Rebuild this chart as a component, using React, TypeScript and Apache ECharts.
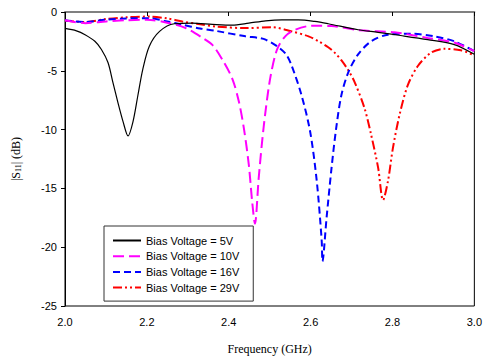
import React, { useEffect, useRef } from "react";
import * as echarts from "echarts";

const seriesNames = [
  "Bias Voltage = 5V",
  "Bias Voltage = 10V",
  "Bias Voltage = 16V",
  "Bias Voltage = 29V",
];

const v5: [number, number][] = [
  [2.0, -1.4], [2.028, -1.6], [2.049, -1.93], [2.073, -2.49], [2.089, -3.19], [2.105, -4.3],
  [2.117, -5.98], [2.129, -7.66], [2.142, -9.34], [2.154, -10.54], [2.166, -9.34], [2.178, -7.1],
  [2.19, -4.87], [2.206, -2.91], [2.231, -1.65], [2.267, -1.0], [2.311, -0.95], [2.36, -1.05],
  [2.408, -1.12], [2.449, -0.95], [2.49, -0.75], [2.53, -0.67], [2.57, -0.67], [2.61, -0.8],
  [2.643, -1.0], [2.716, -1.51], [2.765, -1.73], [2.82, -2.0], [2.886, -2.35], [2.951, -2.77],
  [3.0, -3.6],
];

const v10: [number, number][] = [
  [2.0, -0.7], [2.05, -0.95], [2.1, -0.8], [2.15, -0.7], [2.2, -0.65], [2.255, -0.95],
  [2.295, -1.37], [2.336, -2.2], [2.36, -2.8], [2.384, -4.03], [2.409, -5.7], [2.425, -7.66],
  [2.437, -9.9], [2.449, -12.98], [2.457, -16.05], [2.464, -18.0], [2.473, -14.2], [2.481, -11.2],
  [2.49, -8.4], [2.502, -5.5], [2.518, -3.19], [2.538, -2.07], [2.562, -1.51], [2.603, -1.17],
  [2.651, -1.2], [2.72, -1.55], [2.805, -1.73], [2.886, -2.21], [2.95, -2.6], [3.0, -3.33],
];

const v16: [number, number][] = [
  [2.0, -0.7], [2.05, -0.85], [2.1, -0.65], [2.15, -0.55], [2.206, -0.53], [2.25, -0.8],
  [2.287, -1.09], [2.33, -1.4], [2.368, -1.6], [2.441, -2.07], [2.473, -2.2], [2.49, -2.35],
  [2.518, -2.91], [2.54, -3.6], [2.554, -4.59], [2.578, -7.1], [2.599, -10.2], [2.615, -14.37],
  [2.627, -19.4], [2.629, -21.2], [2.639, -17.5], [2.651, -13.3], [2.662, -10.0], [2.675, -7.1],
  [2.692, -5.14], [2.716, -3.6], [2.748, -2.49], [2.789, -1.93], [2.845, -1.85], [2.902, -2.07],
  [2.951, -2.49], [3.0, -3.33],
];

const v29: [number, number][] = [
  [2.0, -0.75], [2.05, -0.85], [2.1, -0.6], [2.15, -0.45], [2.206, -0.39], [2.25, -0.55],
  [2.287, -0.81], [2.33, -1.05], [2.368, -1.23], [2.441, -1.37], [2.506, -1.3], [2.554, -1.65],
  [2.595, -2.07], [2.62, -2.5], [2.643, -3.0], [2.66, -3.5], [2.675, -4.1], [2.692, -4.95],
  [2.708, -6.0], [2.732, -8.22], [2.748, -10.46], [2.765, -13.25], [2.777, -16.0], [2.789, -14.37],
  [2.801, -11.58], [2.817, -8.78], [2.837, -6.26], [2.862, -4.59], [2.894, -3.47], [2.926, -3.13],
  [2.967, -3.25], [3.0, -3.69],
];

const seriesData = [v5, v10, v16, v29];
const seriesColors = ["#000000", "#ff00ff", "#0000ff", "#ff0000"];
const seriesWidths = [1.2, 2, 2, 2];
const seriesDash: any[] = ["solid", [11, 5], [7, 4], [9, 3, 2, 3, 2, 3]];

export default function App() {
  const ref = useRef<HTMLDivElement>(null);
  useEffect(() => {
    if (!ref.current) return;
    const chart = echarts.init(ref.current, null, { renderer: "svg" });
    chart.setOption({
      animation: false,
      grid: {
        left: 65,
        right: 8,
        top: 12,
        bottom: 50,
        show: true,
        borderColor: "#000",
        borderWidth: 1,
      },
      legend: {
        orient: "vertical",
        left: 104,
        top: 226,
        itemWidth: 28,
        itemHeight: 10,
        itemGap: 4.7,
        padding: [9, 14, 8, 8],
        backgroundColor: "#fff",
        borderColor: "#333",
        borderWidth: 1,
        itemStyle: { opacity: 0 },
        data: seriesNames,
        textStyle: { fontFamily: "Liberation Sans", fontSize: 11, color: "#000" },
      },
      xAxis: {
        type: "value",
        min: 2,
        max: 3,
        interval: 0.2,
        name: "Frequency (GHz)",
        nameLocation: "middle",
        nameGap: 37,
        nameTextStyle: { fontFamily: "Liberation Serif", fontSize: 12, color: "#000" },
        axisLine: { show: true, lineStyle: { color: "#808080", width: 2 } },
        axisTick: { show: true, inside: false, length: 4, lineStyle: { color: "#000" } },
        axisLabel: {
          margin: 10,
          fontFamily: "Liberation Sans",
          fontSize: 11,
          color: "#000",
          formatter: (v: number) => v.toFixed(1),
        },
        splitLine: { show: false },
      },
      yAxis: {
        type: "value",
        min: -25,
        max: 0,
        interval: 5,
        name: "{a||S}{s|11}{a|| (dB)}",
        nameLocation: "middle",
        nameGap: 43,
        nameTextStyle: {
          rich: {
            a: { fontFamily: "Liberation Serif", fontSize: 12, color: "#000" },
            s: { fontFamily: "Liberation Serif", fontSize: 8, color: "#000", padding: [5, 0, 0, 0] },
          },
        },
        axisLine: { show: true, lineStyle: { color: "#000", width: 1 } },
        axisTick: { show: true, inside: false, length: 4, lineStyle: { color: "#000" } },
        axisLabel: { margin: 8, fontFamily: "Liberation Sans", fontSize: 11, color: "#000" },
        splitLine: { show: false },
      },
      series: seriesNames.map((name, i) => ({
        name,
        type: "line",
        data: seriesData[i],
        smooth: 0.3,
        showSymbol: false,
        symbol: "none",
        lineStyle: { color: seriesColors[i], width: seriesWidths[i], type: seriesDash[i] },
        itemStyle: { color: seriesColors[i] },
        z: 2 + (3 - i),
      })),
    });
    return () => chart.dispose();
  }, []);
  return (
    <div
      ref={ref}
      style={{ position: "fixed", left: 0, top: 0, width: 485, height: 360, background: "#fff" }}
    />
  );
}
